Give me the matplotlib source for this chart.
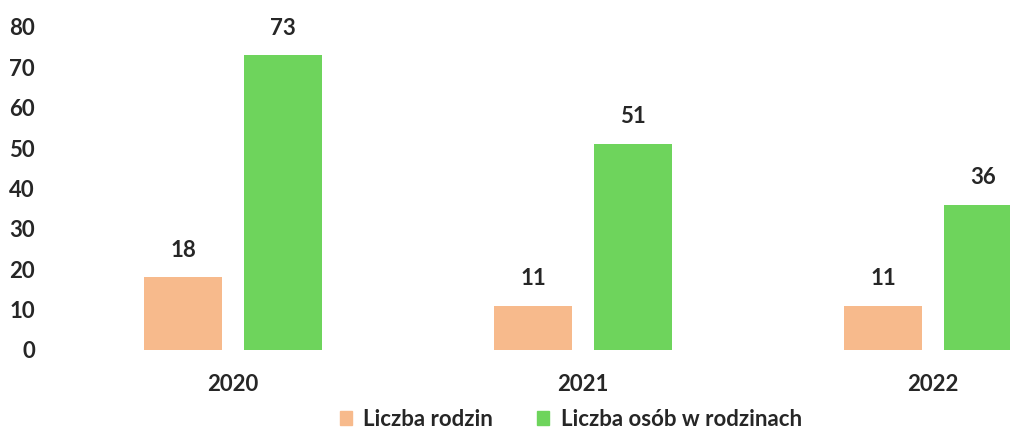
import matplotlib.pyplot as plt
from matplotlib.patches import Patch
import numpy as np

plt.rcParams['font.family'] = ['Lato', 'DejaVu Sans']

years = ['2020', '2021', '2022']
rodziny = [18, 11, 11]
osoby = [73, 51, 36]
labels = ['Liczba rodzin', 'Liczba osób w rodzinach']

c_orange = '#F7BA8C'
c_green = '#6ED45C'
txt = '#262626'

fig = plt.figure(figsize=(10.1, 4.3), dpi=100)
ax = fig.add_axes([60 / 1010, 80 / 430, 950 / 1010, 323 / 430])

x = np.arange(len(years))
w = 0.223
off = 0.142
b1 = ax.bar(x - off, rodziny, w, color=c_orange)
b2 = ax.bar(x + off, osoby, w, color=c_green)

# value labels above the bars
for bars in (b1, b2):
    for rect in bars:
        ax.annotate(str(int(rect.get_height())),
                    (rect.get_x() + rect.get_width() / 2, rect.get_height()),
                    xytext=(0, 12), textcoords='offset points',
                    ha='center', va='bottom', fontsize=16, fontweight='bold',
                    color=txt)

ax.set_xlim(-0.494, 2.22)
ax.set_ylim(0, 80)
ax.set_yticks(range(0, 81, 10))
ax.set_xticks(x)
ax.set_xticklabels(years)
ax.tick_params(axis='both', length=0, labelsize=16, colors=txt)
ax.tick_params(axis='y', pad=18)
ax.tick_params(axis='x', pad=17)
for lbl in ax.get_yticklabels() + ax.get_xticklabels():
    lbl.set_fontweight('bold')
for s in ax.spines.values():
    s.set_visible(False)

handles = [Patch(color=c_orange), Patch(color=c_green)]
leg = fig.legend(handles, labels, ncol=2, loc='center', bbox_to_anchor=(0.565, 0.025),
                 frameon=False, prop={'size': 16, 'weight': 'bold'},
                 handlelength=0.55, handleheight=0.55,
                 handletextpad=0.5, columnspacing=2.0)
for t in leg.get_texts():
    t.set_color(txt)

fig.savefig('out.png', dpi=100)
